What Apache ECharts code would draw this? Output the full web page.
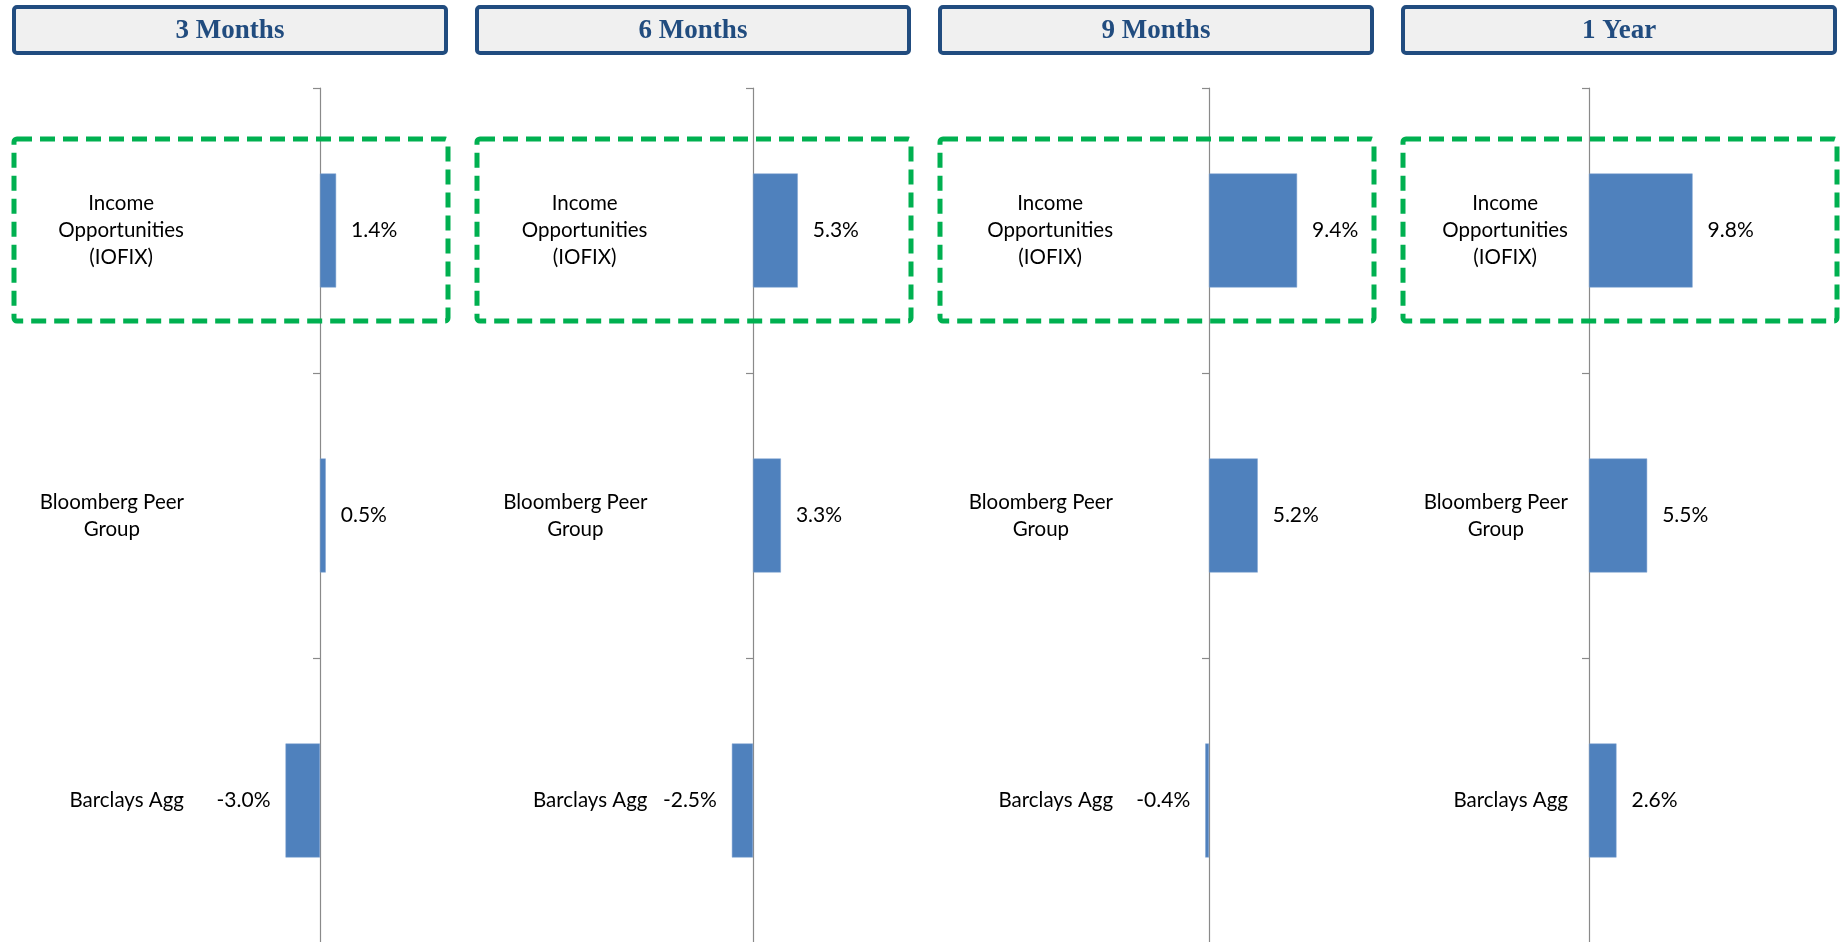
<!DOCTYPE html>
<html><head><meta charset="utf-8">
<script src="https://cdn.jsdelivr.net/npm/echarts@6/dist/echarts.min.js"></script>
<style>html,body{margin:0;padding:0;background:#fff}#c{width:1841px;height:942px}</style>
</head><body><div id="c"></div>
<script>
// ---- data ----
const periods = ['3 Months', '6 Months', '9 Months', '1 Year'];
const categories = ['Income\nOpportunities\n(IOFIX)', 'Bloomberg Peer\nGroup', 'Barclays Agg'];
const iofix = [1.4, 5.3, 9.4, 9.8];
const peerGroup = [0.5, 3.3, 5.2, 5.5];
const barclaysAgg = [-3.0, -2.5, -0.4, 2.6];
const axisMin = [-10, -10, -8, 0];
const axisMax = [4, 8, 12, 12];

// ---- layout / style ----
const panelX0 = 12, panelStep = 463, panelW = 436;
const zeroX = [320, 753, 1209, 1589];
const pxPerPct = [11.5, 8.45, 9.37, 10.57];
const labelGap = 21;
const gridTop = 88, gridHeight = 855;
const sansFont = 'Lato';
const headerBlue = '#214c7f';

const chart = echarts.init(document.getElementById('c'), null, {renderer: 'canvas'});

const grids = [], xAxes = [], yAxes = [], series = [], graphics = [];
periods.forEach((p, i) => {
  const left = zeroX[i] + axisMin[i] * pxPerPct[i];
  grids.push({left: left, width: (axisMax[i] - axisMin[i]) * pxPerPct[i], top: gridTop, height: gridHeight,
              containLabel: false, outerBoundsMode: 'none'});
  xAxes.push({type: 'value', gridIndex: i, min: axisMin[i], max: axisMax[i], show: false, splitLine: {show: false}});
  yAxes.push({
    type: 'category', gridIndex: i, data: categories, inverse: true,
    axisLine: {show: true, onZero: true, lineStyle: {color: '#8a8a8a', width: 1.2}},
    axisTick: {show: true, length: 7, lineStyle: {color: '#8a8a8a', width: 1.2}},
    axisLabel: {
      margin: labelGap,
      formatter: v => v.split('\n').map(s => '{c|' + s + '}').join('\n'),
      rich: {c: {align: 'center', fontFamily: sansFont, fontSize: 20.5, lineHeight: 27, color: '#000'}}
    },
    splitLine: {show: false}
  });
  const vals = [iofix[i], peerGroup[i], barclaysAgg[i]];
  series.push({
    type: 'bar', xAxisIndex: i, yAxisIndex: i, barCategoryGap: '60%',
    itemStyle: {color: '#4f81bd', borderColor: '#7fa3d0', borderWidth: 0.5},
    label: {show: true, distance: 15, fontFamily: sansFont, fontSize: 21, color: '#000',
            formatter: q => q.value.toFixed(1) + '%'},
    data: vals.map(v => ({value: v, label: {position: v < 0 ? 'left' : 'right'}})),
    animation: false
  });
  const bx = panelX0 + panelStep * i;
  graphics.push({
    type: 'rect', shape: {x: bx + 2, y: 7, width: panelW - 4, height: 46, r: 3},
    style: {fill: '#f0f0f0', stroke: headerBlue, lineWidth: 4}, z: 10
  });
  graphics.push({
    type: 'text', x: bx + panelW / 2, y: 31, z: 11,
    style: {text: p, fill: headerBlue, font: 'bold 27px "Liberation Serif", serif', textAlign: 'center', textVerticalAlign: 'middle'}
  });
  graphics.push({
    type: 'rect', shape: {x: bx + 2, y: 139, width: panelW - 2, height: 182, r: 3},
    style: {fill: 'none', stroke: '#00b050', lineWidth: 5, lineDash: [15, 8]}, z: 10
  });
});

chart.setOption({
  animation: false,
  backgroundColor: '#fff',
  grid: grids, xAxis: xAxes, yAxis: yAxes, series: series,
  graphic: graphics
});
</script></body></html>
